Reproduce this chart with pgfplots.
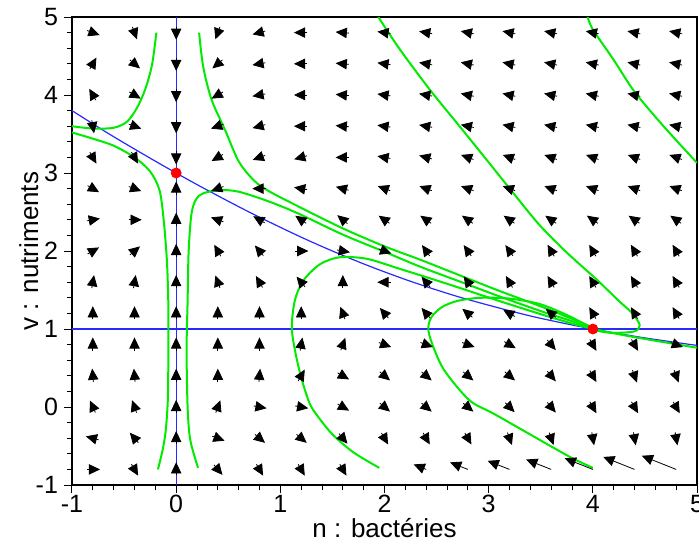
\documentclass[border=0pt]{standalone}
\usepackage{fontspec}
\setmainfont{Liberation Sans}
\usepackage{pgfplots}
\pgfplotsset{compat=1.18}
\usepackage{pgfplotstable}
\usetikzlibrary{arrows.meta}
\definecolor{sgreen}{RGB}{0,235,0}
\definecolor{sblue}{RGB}{40,40,255}

\pgfplotstableread{
x y u v
-0.8 4.8 0.1083 -0.0526
-0.4 4.8 0.0394 -0.1445
0 4.8 0 -0.1538
0.4 4.8 -0.0394 -0.1445
0.8 4.8 -0.1113 -0.0398
1.2 4.8 -0.1152 0
1.6 4.8 -0.1148 0.0134
2.0 4.8 -0.1141 0.0214
2.4 4.8 -0.1134 0.0267
2.8 4.8 -0.1127 0.0320
3.2 4.8 -0.1127 0.0320
3.6 4.8 -0.1127 0.0320
4.0 4.8 -0.1127 0.0320
4.4 4.8 -0.1127 0.0320
4.8 4.8 -0.1127 0.0320
-0.8 4.4 0.0576 0.1332
-0.4 4.4 0.0882 -0.0989
0 4.4 0 -0.1538
0.4 4.4 -0.0882 -0.0989
0.8 4.4 -0.1134 -0.0267
1.2 4.4 -0.1152 0
1.6 4.4 -0.1148 0.0134
2.0 4.4 -0.1141 0.0214
2.4 4.4 -0.1134 0.0267
2.8 4.4 -0.1127 0.0320
3.2 4.4 -0.1127 0.0320
3.6 4.4 -0.1127 0.0320
4.0 4.4 -0.1127 0.0320
4.4 4.4 -0.1127 0.0320
4.8 4.4 -0.1127 0.0320
-0.8 4.0 -0.0576 0.1332
-0.4 4.0 0.0998 -0.0769
0 4.0 0 -0.1538
0.4 4.0 -0.0998 -0.0769
0.8 4.0 -0.1134 -0.0267
1.2 4.0 -0.1152 0
1.6 4.0 -0.1148 0.0134
2.0 4.0 -0.1141 0.0214
2.4 4.0 -0.1134 0.0267
2.8 4.0 -0.1127 0.0320
3.2 4.0 -0.1127 0.0320
3.6 4.0 -0.1127 0.0320
4.0 4.0 -0.1127 0.0320
4.4 4.0 -0.1127 0.0320
4.8 4.0 -0.1127 0.0320
-0.8 3.6 0.0200 -0.1515
-0.4 3.6 0.1083 -0.0526
0 3.6 0 -0.1538
0.4 3.6 -0.1083 -0.0526
0.8 3.6 -0.1113 -0.0398
1.2 3.6 -0.1152 0
1.6 3.6 -0.1148 0.0134
2.0 3.6 -0.1141 0.0214
2.4 3.6 -0.1134 0.0267
2.8 3.6 -0.1127 0.0320
3.2 3.6 -0.1127 0.0320
3.6 3.6 -0.1127 0.0320
4.0 3.6 -0.1127 0.0320
4.4 3.6 -0.1127 0.0320
4.8 3.6 -0.1127 0.0320
-0.8 3.2 0.0576 -0.1332
-0.4 3.2 0.0576 -0.1332
0 3.2 0 -0.1538
0.4 3.2 -0.0998 -0.0769
0.8 3.2 -0.1083 -0.0526
1.2 3.2 -0.1113 -0.0398
1.6 3.2 -0.1152 0
2.0 3.2 -0.1134 0.0267
2.4 3.2 -0.1113 0.0398
2.8 3.2 -0.1083 0.0526
3.2 3.2 -0.1083 0.0526
3.6 3.2 -0.1083 0.0526
4.0 3.2 -0.1083 0.0526
4.4 3.2 -0.1083 0.0526
4.8 3.2 -0.1083 0.0526
-0.8 2.8 0.0998 -0.0769
-0.4 2.8 0.1083 -0.0526
0 2.8 0 0.1538
0.4 2.8 -0.1083 -0.0526
0.8 2.8 -0.1152 0
1.2 2.8 -0.1134 0.0267
1.6 2.8 -0.1113 0.0398
2.0 2.8 -0.1083 0.0526
2.4 2.8 -0.1083 0.0526
2.8 2.8 -0.1083 0.0526
3.2 2.8 -0.1083 0.0526
3.6 2.8 -0.1083 0.0526
4.0 2.8 -0.1083 0.0526
4.4 2.8 -0.1083 0.0526
4.8 2.8 -0.1083 0.0526
-0.8 2.4 0.1134 0.0267
-0.4 2.4 0.1152 0
0 2.4 0 0.1538
0.4 2.4 -0.1083 0.0526
0.8 2.4 -0.0998 0.0769
1.2 2.4 -0.0944 0.0882
1.6 2.4 -0.0882 0.0989
2.0 2.4 -0.0944 0.0882
2.4 2.4 -0.0944 0.0882
2.8 2.4 -0.0944 0.0882
3.2 2.4 -0.0944 0.0882
3.6 2.4 -0.0944 0.0882
4.0 2.4 -0.0944 0.0882
4.4 2.4 -0.0944 0.0882
4.8 2.4 -0.0944 0.0882
-0.8 2.0 0.0998 0.0769
-0.4 2.0 0.0882 0.0989
0 2.0 0 0.1538
0.4 2.0 -0.0576 0.1332
0.8 2.0 -0.0740 0.1178
1.2 2.0 0.1152 0
1.6 2.0 0.1134 -0.0267
2.0 2.0 0.1083 -0.0526
2.4 2.0 -0.0661 0.1260
2.8 2.0 -0.0661 0.1260
3.2 2.0 -0.0661 0.1260
3.6 2.0 -0.0576 0.1332
4.0 2.0 -0.0576 0.1332
4.4 2.0 -0.0576 0.1332
4.8 2.0 -0.0576 0.1332
-0.8 1.6 0.0200 0.1515
-0.4 1.6 0.0200 0.1515
0 1.6 0 0.1538
0.4 1.6 -0.0394 0.1445
0.8 1.6 -0.0576 0.1332
1.2 1.6 -0.0740 0.1178
1.6 1.6 0 0.1538
2.0 1.6 -0.1152 0
2.4 1.6 -0.0740 0.1178
2.8 1.6 -0.0661 0.1260
3.2 1.6 -0.0576 0.1332
3.6 1.6 -0.0576 0.1332
4.0 1.6 -0.0576 0.1332
4.4 1.6 -0.0576 0.1332
4.8 1.6 -0.0576 0.1332
-0.8 1.2 0 0.1538
-0.4 1.2 0 0.1538
0 1.2 0 0.1538
0.4 1.2 0 0.1538
0.8 1.2 0 0.1538
1.2 1.2 0 0.1538
1.6 1.2 -0.0394 0.1445
2.0 1.2 -0.0740 0.1178
2.4 1.2 -0.0740 0.1178
2.8 1.2 -0.0882 0.0989
3.2 1.2 -0.0998 0.0769
3.6 1.2 -0.0882 0.0989
4.0 1.2 -0.0576 0.1332
4.4 1.2 -0.0576 0.1332
4.8 1.2 -0.0576 0.1332
-0.8 0.8 0 0.1538
-0.4 0.8 0 0.1538
0 0.8 0 0.1538
0.4 0.8 0 0.1538
0.8 0.8 0 0.1538
1.2 0.8 0.0200 0.1515
1.6 0.8 0.0394 0.1445
2.0 0.8 0.1083 -0.0526
2.4 0.8 0.1083 -0.0526
2.8 0.8 0.1083 -0.0526
3.2 0.8 0.0998 -0.0769
3.6 0.8 0.0740 -0.1178
4.0 0.8 0.0576 -0.1332
4.4 0.8 0.0576 -0.1332
4.8 0.8 0.1083 -0.0526
-0.8 0.4 -0.0100 0.1532
-0.4 0.4 -0.0100 0.1532
0 0.4 0 0.1538
0.4 0.4 0 0.1538
0.8 0.4 0.0100 0.1532
1.2 0.4 0.0576 0.1332
1.6 0.4 0.0998 -0.0769
2.0 0.4 0.0882 -0.0989
2.4 0.4 0.0882 -0.0989
2.8 0.4 0.0882 -0.0989
3.2 0.4 0.0882 -0.0989
3.6 0.4 0.0740 -0.1178
4.0 0.4 0.0576 -0.1332
4.4 0.4 0.0394 -0.1445
4.8 0.4 0.0394 -0.1445
-0.8 0 -0.0487 0.1394
-0.4 0 -0.0394 0.1445
0 0 0 0.1538
0.4 0 0.0394 0.1445
0.8 0 0.1134 -0.0267
1.2 0 0.1134 -0.0267
1.6 0 0.0998 -0.0769
2.0 0 0.0882 -0.0989
2.4 0 0.0882 -0.0989
2.8 0 0.0882 -0.0989
3.2 0 0.0815 -0.1088
3.6 0 0.0740 -0.1178
4.0 0 0.0576 -0.1332
4.4 0 0.0576 -0.1332
4.8 0 0.0576 -0.1332
-0.8 -0.4 -0.1113 0.0398
-0.4 -0.4 -0.0740 0.1178
0 -0.4 0 0.1538
0.4 -0.4 0.1083 -0.0526
0.8 -0.4 0.0882 -0.0989
1.2 -0.4 0.0882 -0.0989
1.6 -0.4 0.0740 -0.1178
2.0 -0.4 0.0576 -0.1332
2.4 -0.4 0.0576 -0.1332
2.8 -0.4 0.0576 -0.1332
3.2 -0.4 0.0394 -0.1445
3.6 -0.4 0.0394 -0.1445
4.0 -0.4 0.0200 -0.1515
4.4 -0.4 0.0200 -0.1515
4.8 -0.4 0.0200 -0.1515
-0.8 -0.8 0.1152 0
-0.4 -0.8 0.0576 -0.1332
0 -0.8 0 0.1538
0.4 -0.8 0.0740 -0.1178
0.8 -0.8 0.0576 -0.1332
1.2 -0.8 0.0576 -0.1332
1.6 -0.8 0.0576 -0.1332
}\field

\pgfplotstableread{
x y u v
2.4 -0.8 -0.12 0.064
2.8 -0.8 -0.17 0.09
3.2 -0.8 -0.21 0.11
3.6 -0.8 -0.24 0.127
4.0 -0.8 -0.27 0.143
4.4 -0.8 -0.30 0.16
4.8 -0.8 -0.33 0.175
}\longfield

\begin{document}
\begin{tikzpicture}
\begin{axis}[
  width=312.5pt, height=234pt, scale only axis,
  xmin=-1, xmax=5, ymin=-1, ymax=5,
  xtick={-1,0,1,2,3,4,5}, ytick={-1,0,1,2,3,4,5},
  xticklabels={-1,0,1,2,3,4,5}, yticklabels={-1,0,1,2,3,4,5},
  minor tick num=4,
  tick align=outside, tick pos=left,
  major tick length=4pt, minor tick length=2.5pt,
  tick style={black, line width=0.5pt},
  axis line style={black, line width=0.6pt},
  tick label style={font=\fontsize{12.5}{14}\selectfont},
  xticklabel style={yshift=2.5pt},
  yticklabel style={xshift=0.5pt},
  xlabel={n : bactéries}, ylabel={v : nutriments},
  every axis x label/.style={at={(axis description cs:0.5,-0.112)}, anchor=base, inner sep=0pt,
     font=\fontsize{13}{15}\selectfont},
  every axis y label/.style={at={(axis description cs:-0.054,0.5)}, rotate=90, anchor=base, inner sep=0pt,
     font=\fontsize{13}{15}\selectfont},
  clip=true,
]
% nullclines
\addplot[draw=sblue, line width=0.6pt] coordinates {(0,-1) (0,5)};
\addplot[draw=sblue, line width=0.6pt] coordinates {(-1,1) (5,1)};
\addplot[draw=sblue, line width=0.6pt, smooth] coordinates {
(-1.0,3.80) (-0.643,3.5) (-0.2625,3.2) (0,3) (0.2714,2.8) (0.7,2.5) (1.1636,2.2) (1.5,2.0)
(1.8667,1.8) (2.275,1.6) (2.743,1.4) (3.3,1.2) (3.627,1.1) (4,1) (4.433,0.9) (4.838,0.82) (5.0,0.79)};
% trajectories
\addplot[sgreen, line width=1pt, smooth] coordinates {
(-1,3.60) (-0.8,3.57) (-0.6,3.58) (-0.47,3.66) (-0.37,3.85) (-0.29,4.1) (-0.23,4.4) (-0.19,4.8)};
\addplot[sgreen, line width=1pt, smooth] coordinates {
(-1,3.52) (-0.8,3.44) (-0.6,3.35) (-0.4,3.2) (-0.25,3.02) (-0.16,2.78) (-0.12,2.4) (-0.09,1.9)
(-0.076,1.37) (-0.075,0.7) (-0.08,0.1) (-0.1,-0.3) (-0.13,-0.55) (-0.175,-0.8)};
\addplot[sgreen, line width=1pt, smooth] coordinates {
(0.22,4.8) (0.26,4.36) (0.34,3.94) (0.47,3.55) (0.6,3.15) (0.75,2.9) (0.9,2.76) (1.19,2.56)
(1.6,2.29) (2.0,2.06) (2.34,1.89) (2.7,1.70) (3.1,1.49) (3.5,1.29) (3.8,1.13) (4.0,1.02)};
\addplot[sgreen, line width=1pt, smooth] coordinates {
(0.21,-0.78) (0.135,-0.42) (0.11,0.0) (0.10,0.73) (0.11,1.37) (0.12,2.0) (0.15,2.5) (0.22,2.71)
(0.4,2.78) (0.6,2.76) (0.9,2.63) (1.19,2.47) (1.6,2.21) (2.0,1.99) (2.34,1.80) (2.7,1.62)
(3.1,1.42) (3.5,1.23) (3.8,1.10) (4.0,1.0)};
\addplot[sgreen, line width=1pt, smooth] coordinates {
(1.95,-0.78) (1.7,-0.58) (1.5,-0.35) (1.36,-0.12) (1.28,0.05) (1.2,0.38) (1.14,0.73) (1.11,1.03)
(1.14,1.37) (1.22,1.62) (1.38,1.83) (1.57,1.92) (1.83,1.90) (2.15,1.77) (2.6,1.58) (3.1,1.36)
(3.5,1.19) (3.8,1.07) (4.0,1.0)};
\addplot[sgreen, line width=1pt, smooth] coordinates {
(1.94,5.0) (2.15,4.58) (2.44,4.06) (2.72,3.6) (3.01,3.12) (3.25,2.72) (3.49,2.33) (3.75,1.98)
(4.04,1.63) (4.25,1.36) (4.38,1.2) (4.45,1.05) (4.4,0.97) (4.2,0.95) (4.07,0.97) (4.0,1.0)};
\addplot[sgreen, line width=1pt, smooth] coordinates {
(3.95,5.0) (4.0,4.84) (4.2,4.45) (4.39,4.06) (4.6,3.72) (4.8,3.42) (5.0,3.13)};
\addplot[sgreen, line width=1pt, smooth] coordinates {
(4.0,-0.78) (3.78,-0.64) (3.37,-0.33) (3.04,-0.08) (2.85,0.05) (2.72,0.22) (2.56,0.5) (2.46,0.8)
(2.42,1.0) (2.45,1.15) (2.55,1.28) (2.7,1.36) (2.92,1.40) (3.2,1.39) (3.49,1.32) (3.75,1.18) (3.97,1.03)};
\addplot[sgreen, line width=1pt, smooth] coordinates {
(4.0,1.0) (4.3,0.92) (4.6,0.85) (5.0,0.76)};
% vector field
\addplot[black, line width=0.4pt, quiver={u=\thisrow{u}, v=\thisrow{v}, scale arrows=1.1},
  -{Triangle[length=5.6pt,width=5.2pt]}]
  table[x expr=\thisrow{x}-0.5*\thisrow{u}, y expr=\thisrow{y}-0.5*\thisrow{v}] {\field};
\addplot[black, line width=0.4pt, quiver={u=\thisrow{u}, v=\thisrow{v}},
  -{Triangle[length=5.6pt,width=5.2pt]}]
  table[x=x, y=y] {\longfield};
% equilibria
\addplot[only marks, mark=*, mark size=2.5pt, red, mark options={draw=red, fill=red}]
  coordinates {(0,3) (4,1)};
\end{axis}
\pgfresetboundingbox
\path[use as bounding box] ([xshift=-36pt,yshift=-31.5pt]current axis.south west)
  rectangle ([xshift=1pt,yshift=8.5pt]current axis.north east);
\end{tikzpicture}
\end{document}
